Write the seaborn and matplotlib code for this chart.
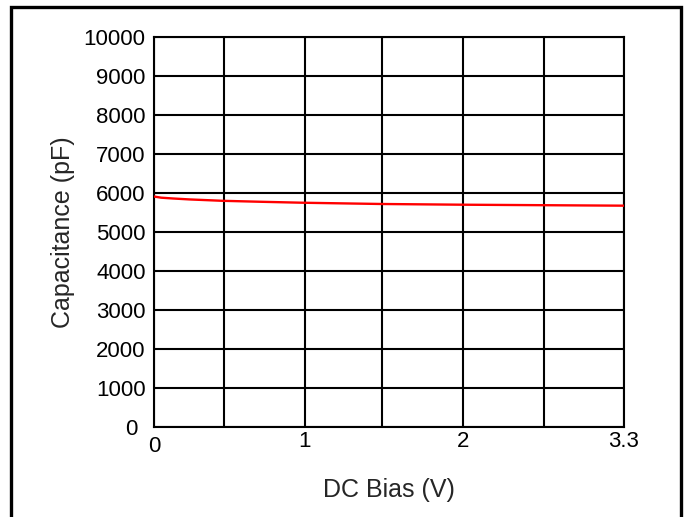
import numpy as np
import pandas as pd
import seaborn as sns
import matplotlib.pyplot as plt
import matplotlib.transforms as mtransforms
from matplotlib.patches import Rectangle

# DC bias sweep (V) and measured capacitance (pF)
bias_v = [0.0, 0.05, 0.13, 0.25, 0.48, 0.75, 1.05, 1.6, 2.16, 2.7, 3.3]
cap_pf = [5910, 5880, 5860, 5835, 5800, 5775, 5750, 5718, 5700, 5688, 5675]

grid_x = [0.0, 0.49, 1.06, 1.60, 2.17, 2.74, 3.3]
xtick_pos = [0.0, 1.06, 2.17, 3.3]
xtick_labels = ["0", "1", "2", "3.3"]
ytick_vals = list(range(0, 10001, 1000))

df = pd.DataFrame({"bias": bias_v, "cap": cap_pf})

sns.set_style("white")
plt.rcParams["font.family"] = ["Liberation Sans", "DejaVu Sans"]

fig = plt.figure(figsize=(6.88, 5.17), dpi=100)
ax = fig.add_axes([154/688, 1-427/517, 470/688, 390/517])

for gx in grid_x:
    ax.axvline(gx, color="black", lw=1.5, zorder=1)
for gy in ytick_vals:
    ax.axhline(gy, color="black", lw=1.5, zorder=1)

sns.lineplot(data=df, x="bias", y="cap", color="red", lw=1.7, ax=ax, zorder=3)

ax.set_xlim(0, 3.3)
ax.set_ylim(0, 10000)
ax.set_xticks(xtick_pos)
ax.set_xticklabels(xtick_labels)
ax.set_yticks(ytick_vals)
ax.set_yticklabels([str(v) for v in ytick_vals])
ax.tick_params(axis="both", length=0, labelsize=16, colors="black")
ax.tick_params(axis="y", pad=6)
ax.tick_params(axis="x", pad=3)
for s in ax.spines.values():
    s.set_color("black")
    s.set_linewidth(1.5)

# the two "0" labels sit apart in the original
xl0 = ax.get_xticklabels()[0]
xl0.set_transform(xl0.get_transform() + mtransforms.ScaledTranslation(0, -5/100, fig.dpi_scale_trans))
yl0 = ax.get_yticklabels()[0]
yl0.set_transform(yl0.get_transform() + mtransforms.ScaledTranslation(-8/100, 0, fig.dpi_scale_trans))

ax.set_xlabel("DC Bias (V)", fontsize=18)
ax.set_ylabel("Capacitance (pF)", fontsize=18)
ax.xaxis.set_label_coords(0.5, -0.13)
ax.yaxis.set_label_coords(-0.168, 0.5)

fig.patches.append(Rectangle((11/688, -0.05), 670/688, 1.05 - 7/517,
                             transform=fig.transFigure, fill=False,
                             edgecolor="black", lw=2.4, clip_on=False))

fig.savefig("out.png", dpi=100)
